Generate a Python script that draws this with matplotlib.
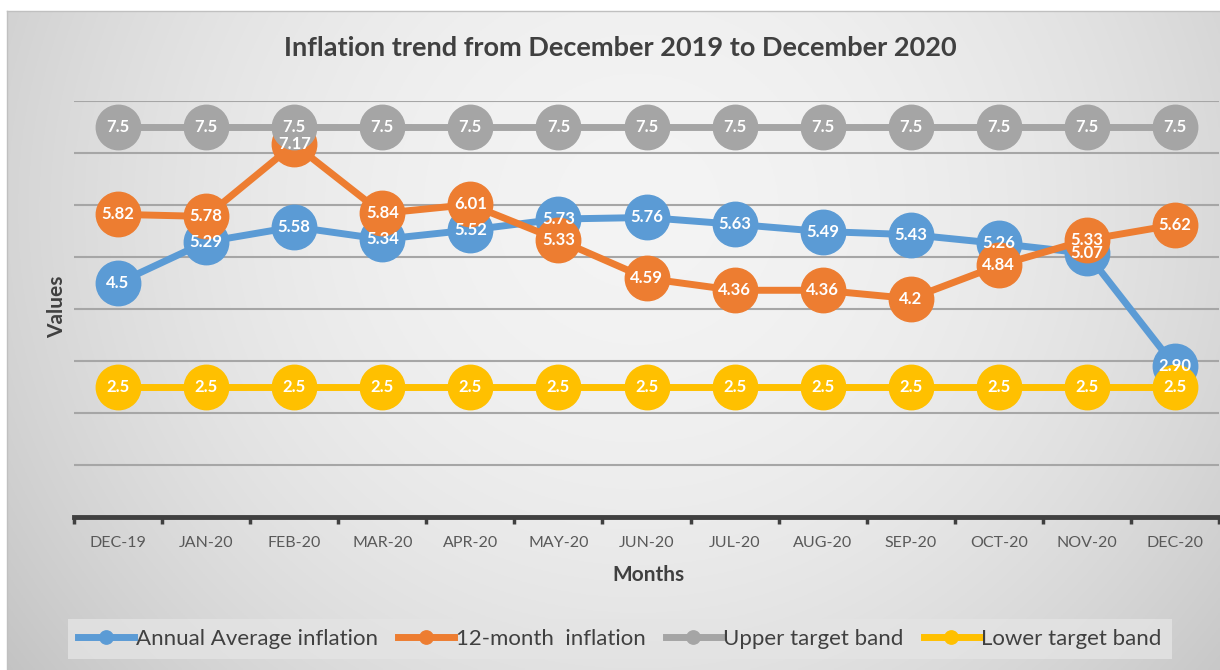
import matplotlib.pyplot as plt
import numpy as np

months = ["DEC-19", "JAN-20", "FEB-20", "MAR-20", "APR-20", "MAY-20", "JUN-20",
          "JUL-20", "AUG-20", "SEP-20", "OCT-20", "NOV-20", "DEC-20"]
annual_avg = ["4.5", "5.29", "5.58", "5.34", "5.52", "5.73", "5.76",
              "5.63", "5.49", "5.43", "5.26", "5.07", "2.90"]
twelve_month = ["5.82", "5.78", "7.17", "5.84", "6.01", "5.33", "4.59",
                "4.36", "4.36", "4.2", "4.84", "5.33", "5.62"]
upper_band = ["7.5"] * 13
lower_band = ["2.5"] * 13

series = [
    ("Annual Average inflation", annual_avg, "#5b9bd5"),
    ("12-month  inflation", twelve_month, "#ed7d31"),
    ("Upper target band", upper_band, "#a5a5a5"),
    ("Lower target band", lower_band, "#ffc000"),
]

plt.rcParams['font.family'] = ['Lato', 'DejaVu Sans']
W, H = 1220, 670
fig = plt.figure(figsize=(W / 100, H / 100), dpi=100)
fig.patch.set_facecolor("white")

# gradient background of the chart area
bg = fig.add_axes([7 / W, 0, 1 - 7 / W, 1 - 11 / H], zorder=-10)
yy, xx = np.mgrid[0:1:300j, 0:1:600j]
r2 = ((xx - 0.52) / 0.62) ** 2 + ((yy - 0.3) / 1.1) ** 2
shade = np.clip(0.955 - 0.17 * r2, 0.76, 0.96)
bg.imshow(np.dstack([shade] * 3), aspect="auto", extent=(0, 1, 1, 0))
bg.set_axis_off()
fig.add_artist(plt.Line2D([7 / W, 1], [1 - 11 / H] * 2, color="#c0c0c0", lw=1))
fig.add_artist(plt.Line2D([7 / W] * 2, [0, 1 - 11 / H], color="#c0c0c0", lw=1))

ax = fig.add_axes([74 / W, 1 - 517 / H, 1145 / W, 416 / H])
ax.set_facecolor("none")
x = np.arange(len(months))

for i, (name, labels, color) in enumerate(series):
    vals = [float(s) for s in labels]
    ax.plot(x, vals, color=color, lw=5, marker="o", markersize=32,
            zorder=2 + i, label=name)
for name, labels, color in series:
    for xi, s in zip(x, labels):
        ax.text(xi, float(s), s, color="white", fontsize=12, fontweight="bold",
                ha="center", va="center", zorder=20)

ax.set_xlim(-0.5, len(months) - 0.5)
ax.set_ylim(0, 8)
ax.set_yticks(range(1, 9))
ax.yaxis.grid(True, color="#a6a6a6", lw=1.5)
ax.set_axisbelow(True)
ax.tick_params(axis="y", length=0, labelleft=False)
ax.set_xticks(x)
ax.set_xticklabels(months, fontsize=11.5, color="#595959")
ax.set_xticks(np.arange(-0.5, len(months)), minor=True)
ax.tick_params(axis="x", which="major", length=0, pad=14)
ax.tick_params(axis="x", which="minor", length=5, width=2.5, color="#404040")
for side in ["top", "right", "left"]:
    ax.spines[side].set_visible(False)
ax.spines["bottom"].set_color("#404040")
ax.spines["bottom"].set_linewidth(3.5)

fig.text(620 / W, 1 - 48 / H, "Inflation trend from December 2019 to December 2020",
         ha="center", va="center", fontsize=19.5, fontweight="bold", color="#404040")
fig.text(57 / W, 1 - 307 / H, "Values", rotation=90, ha="center", va="center",
         fontsize=15, fontweight="bold", color="#404040")
fig.text(648 / W, 1 - 575 / H, "Months", ha="center", va="center",
         fontsize=15, fontweight="bold", color="#404040")

handles, names = ax.get_legend_handles_labels()
leg = fig.legend(handles, names, ncol=4, loc="center", bbox_to_anchor=(620 / W, 1 - 639 / H),
                 fontsize=16, frameon=True, fancybox=False, handlelength=2.5,
                 handletextpad=0.1, columnspacing=0.9, borderpad=0.45, markerscale=0.3)
leg.get_frame().set_facecolor("#e4e4e4")
leg.get_frame().set_edgecolor("none")
for t in leg.get_texts():
    t.set_color("#404040")

fig.savefig("out.png", dpi=100)
